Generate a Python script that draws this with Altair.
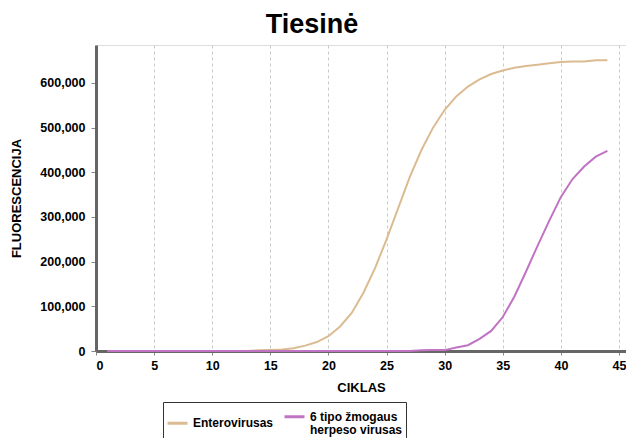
import altair as alt
import pandas as pd

cycles = list(range(1, 45))
entero = [0, 0, 0, 0, 0, 0, 0, 0, 0, 0, 0, 0, 0, 1500,
          2500, 3500, 6000, 12000, 20000, 33000, 55000, 85000, 130000, 185000,
          250000, 320000, 390000, 450000, 500000, 540000, 570000, 592000, 608000, 620000,
          628000, 634000, 638000, 641000, 644000, 647000, 648000, 648000, 651000, 651000]
hhv6 = [0, 0, 0, 0, 0, 0, 0, 0, 0, 0, 0, 0, 0, 0,
        0, 0, 0, 0, 0, 0, 0, 0, 0, 0,
        0, 0, 0, 1500, 2000, 2000, 8000, 13000, 27000, 45000,
        76000, 122000, 178000, 236000, 292000, 345000, 385000, 413000, 435000, 448000]
series_names = ["Enterovirusas", "6 tipo žmogaus herpeso virusas"]
colors = ["#dbbb92", "#c173c3"]

rows = []
for name, vals in zip(series_names, [entero, hhv6]):
    for c, v in zip(cycles, vals):
        rows.append({"cycle": c, "value": v, "series": name})
df = pd.DataFrame(rows)

font = "Liberation Sans"

chart = alt.Chart(df).mark_line(strokeWidth=2).encode(
    x=alt.X("cycle:Q", scale=alt.Scale(domain=[0, 45.6], nice=False),
            axis=alt.Axis(title="CIKLAS", values=list(range(0, 46, 5)), grid=True,
                          gridDash=[3, 3], gridColor="#c8c8c8", gridWidth=1,
                          domainColor="#666666", domainWidth=3, tickColor="#888888",
                          tickSize=4, labelFont=font, labelFontSize=12.5, labelFontWeight="bold",
                          labelColor="#000000", titleFont=font, titleFontSize=13,
                          titleFontWeight="bold", titleColor="#000000", titlePadding=10,
                          labelPadding=4)),
    y=alt.Y("value:Q", scale=alt.Scale(domain=[0, 685000], nice=False),
            axis=alt.Axis(title="FLUORESCENCIJA", values=list(range(0, 600001, 100000)),
                          format=",d", grid=False, domainColor="#666666", domainWidth=3,
                          tickColor="#888888", tickSize=5, labelFont=font, labelFontSize=12.5,
                          labelFontWeight="bold", labelColor="#000000", titleFont=font,
                          titleFontSize=13, titleFontWeight="bold", titleColor="#000000",
                          titlePadding=16, labelPadding=6)),
    color=alt.Color("series:N", scale=alt.Scale(domain=series_names, range=colors),
                    sort=series_names,
                    legend=alt.Legend(title=None, orient="none", legendX=67, legendY=357,
                                      direction="horizontal", columns=2,
                                      symbolType="stroke", symbolSize=400, symbolStrokeWidth=3,
                                      labelFont=font, labelFontSize=12, labelFontWeight="bold",
                                      labelColor="#000000", labelLimit=300, labelBaseline="middle",
                                      labelExpr="datum.label == '6 tipo žmogaus herpeso virusas' ? ['6 tipo žmogaus', 'herpeso virusas'] : datum.label",
                                      strokeColor="#333333", padding=3, columnPadding=4,
                                      labelOffset=4)),
).properties(
    width=530, height=306,
    title=alt.TitleParams("Tiesinė", font=font, fontSize=27, fontWeight="bold",
                          color="#000000", anchor="middle", dx=-49, offset=6),
    padding={"left": 88, "top": 37, "right": 0, "bottom": 87},
    autosize=alt.AutoSizeParams(type="none"),
).configure_view(stroke=None).configure(style={"guide-label": {"lineHeight": 13}})

chart.save("out.html", embed_options={"renderer": "svg", "actions": False})
